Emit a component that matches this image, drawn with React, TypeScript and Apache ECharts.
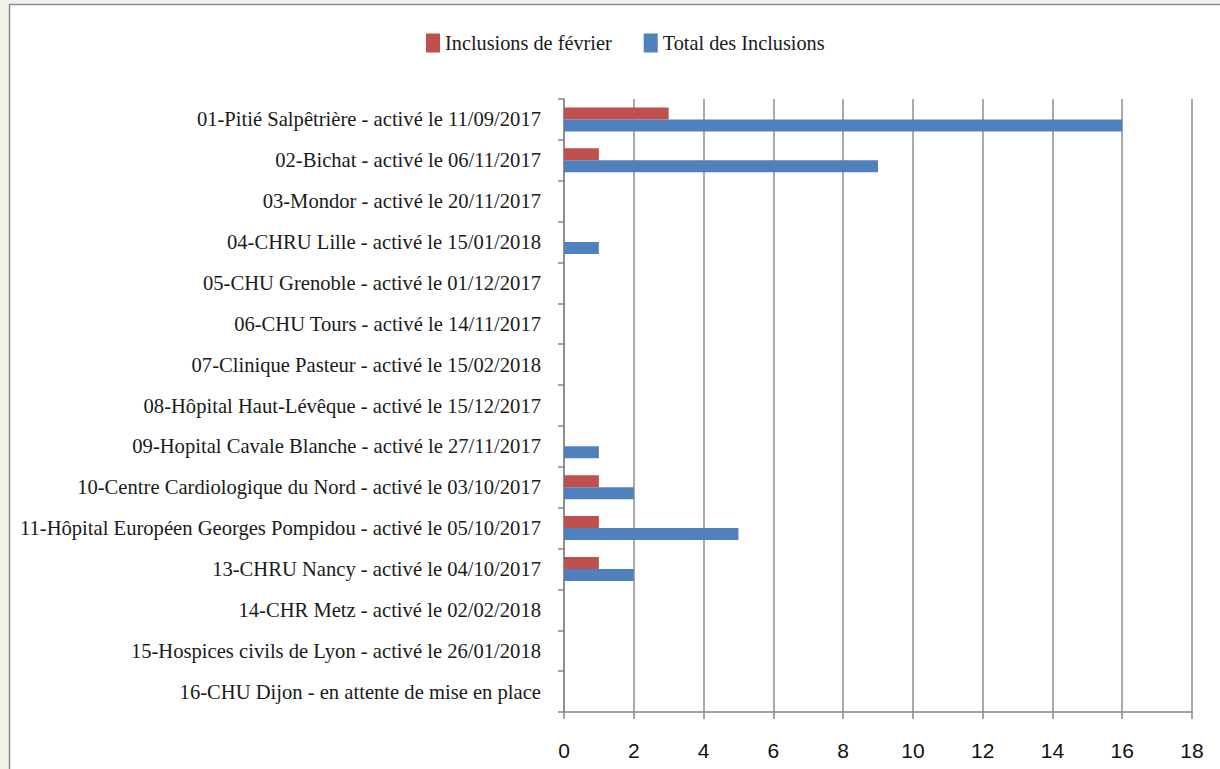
import React, { useEffect, useRef } from "react";
import * as echarts from "echarts";

const categories = [
  "01-Pitié Salpêtrière - activé le 11/09/2017",
  "02-Bichat - activé le 06/11/2017",
  "03-Mondor - activé le 20/11/2017",
  "04-CHRU Lille - activé le 15/01/2018",
  "05-CHU Grenoble - activé le 01/12/2017",
  "06-CHU Tours - activé le 14/11/2017",
  "07-Clinique Pasteur - activé le 15/02/2018",
  "08-Hôpital Haut-Lévêque - activé le 15/12/2017",
  "09-Hopital Cavale Blanche - activé le 27/11/2017",
  "10-Centre Cardiologique du Nord - activé le 03/10/2017",
  "11-Hôpital Européen Georges Pompidou - activé le 05/10/2017",
  "13-CHRU Nancy - activé le 04/10/2017",
  "14-CHR Metz - activé le 02/02/2018",
  "15-Hospices civils de Lyon - activé le 26/01/2018",
  "16-CHU Dijon - en attente de mise en place",
];
const inclusionsFevrier = [3, 1, 0, 0, 0, 0, 0, 0, 0, 1, 1, 1, 0, 0, 0];
const totalInclusions = [16, 9, 0, 1, 0, 0, 0, 0, 1, 2, 5, 2, 0, 0, 0];
const seriesNames = ["Inclusions de février", "Total des Inclusions"];

const SERIF = "'Liberation Serif', 'DejaVu Serif', serif";
const NARROW = "'Liberation Sans Narrow', 'Liberation Sans', sans-serif";

export default function App() {
  const ref = useRef<HTMLDivElement>(null);
  useEffect(() => {
    if (!ref.current) return;
    const chart = echarts.init(ref.current, undefined, { renderer: "svg" });
    chart.setOption({
      animation: false,
      backgroundColor: "#F3F2EA",
      graphic: [
        {
          type: "rect",
          z: -10,
          silent: true,
          shape: { x: 9.5, y: 4.5, width: 1230, height: 790 },
          style: { fill: "#ffffff", stroke: "#8c8c8c", lineWidth: 1.5 },
        },
      ],
      legend: {
        top: 28,
        left: 421,
        itemWidth: 14,
        itemHeight: 19,
        itemGap: 32,
        icon: "rect",
        textStyle: { fontFamily: SERIF, fontSize: 20.3, color: "#1a1a1a" },
        data: seriesNames,
      },
      grid: { left: 564, right: 28, top: 99, bottom: 57, containLabel: false },
      xAxis: {
        type: "value",
        min: 0,
        max: 18,
        interval: 2,
        axisLine: { show: true, lineStyle: { color: "#868686", width: 1.5 } },
        axisTick: { show: true, length: 7, lineStyle: { color: "#868686", width: 1.5 } },
        splitLine: { show: true, lineStyle: { color: "#8c8c8c", width: 1.5 } },
        axisLabel: { fontFamily: NARROW, fontSize: 21, color: "#111", margin: 28 },
      },
      yAxis: {
        type: "category",
        inverse: true,
        data: categories,
        axisLine: { show: true, lineStyle: { color: "#868686", width: 1.5 } },
        axisTick: { show: true, length: 6, lineStyle: { color: "#868686", width: 1.5 } },
        axisLabel: { fontFamily: SERIF, fontSize: 20.6, color: "#1a1a1a", margin: 23 },
        splitLine: { show: false },
      },
      series: [
        {
          name: seriesNames[0],
          type: "bar",
          data: inclusionsFevrier,
          barWidth: 12,
          barGap: "0%",
          itemStyle: { color: "#C0504D" },
        },
        {
          name: seriesNames[1],
          type: "bar",
          data: totalInclusions,
          barWidth: 12,
          barGap: "0%",
          itemStyle: { color: "#4F81BD" },
        },
      ],
    });
    return () => chart.dispose();
  }, []);
  return (
    <div
      ref={ref}
      style={{ position: "fixed", left: 0, top: 0, width: 1220, height: 769 }}
    />
  );
}
